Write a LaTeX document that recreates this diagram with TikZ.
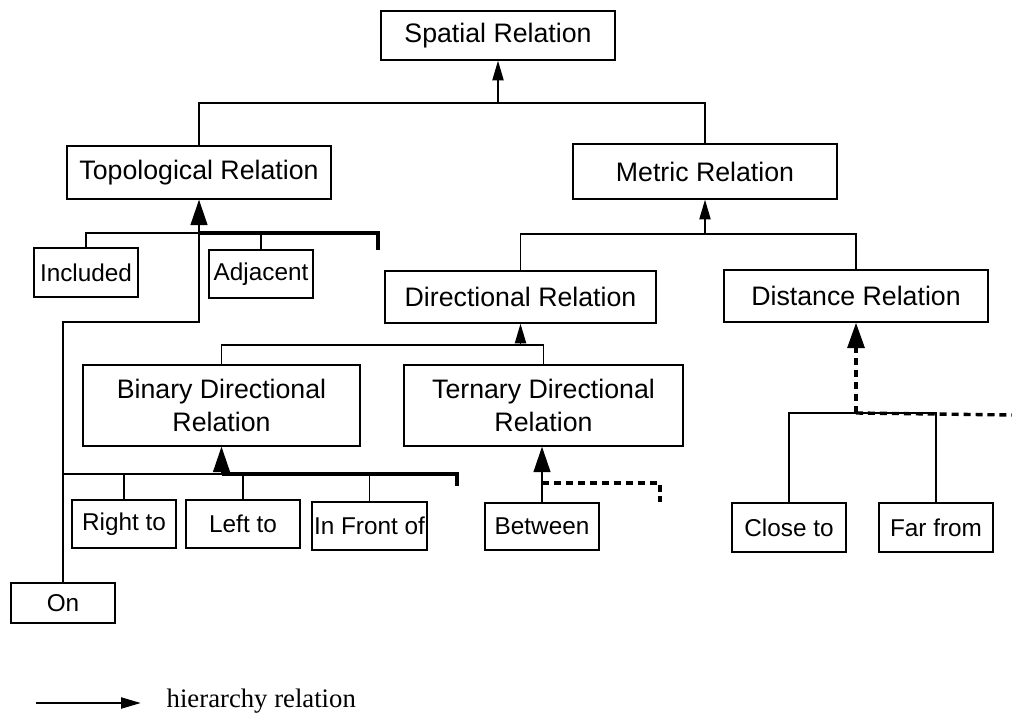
\documentclass[tikz,border=0pt]{standalone}
\usepackage{fontspec}
\setmainfont{Liberation Sans}
\newfontfamily\legendfont{Liberation Serif}
\usetikzlibrary{arrows.meta}

\begin{document}
\begin{tikzpicture}[x=0.025cm, y=-0.025cm, line width=1pt,
    box/.style={draw, line width=1pt, align=center, inner sep=0pt,
        font=\fontsize{19}{23.5}\selectfont},
    smallbox/.style={box, font=\fontsize{17.3}{21}\selectfont},
    smallarrow/.style={-{Triangle[length=14pt, width=8pt]}},
    bigarrow/.style={-{Triangle[length=18pt, width=12pt]}},
    boldline/.style={line width=2.8pt},
    dashline/.style={line width=2.4pt, dash pattern=on 5pt off 3.5pt}]
    \useasboundingbox (0,0) rectangle (1012,713);

    \node[box, minimum width=5.85cm, minimum height=1.225cm] (spatial) at (498,35.5) {Spatial Relation};
    \node[box, minimum width=6.6cm, minimum height=1.325cm] (topo) at (199,172.5) {Topological Relation};
    \node[box, minimum width=6.6cm, minimum height=1.375cm] (metric) at (705,171.5) {Metric Relation};
    \node[smallbox, minimum width=2.6cm, minimum height=1.225cm] (incl) at (86,272.5) {Included};
    \node[smallbox, minimum width=2.6cm, minimum height=1.2cm] (adj) at (261,274) {Adjacent};
    \node[box, minimum width=6.775cm, minimum height=1.3cm] (dir) at (520.5,297) {Directional Relation};
    \node[box, minimum width=6.6cm, minimum height=1.3cm] (dist) at (856,296) {Distance Relation};
    \node[box, minimum width=6.925cm, minimum height=2.025cm] (bin) at (221.5,405.5) {Binary Directional\\Relation};
    \node[box, minimum width=6.975cm, minimum height=2.025cm] (ter) at (543.5,405.5) {Ternary Directional\\Relation};
    \node[smallbox, minimum width=2.6cm, minimum height=1.2cm] (right) at (124,524) {Right to};
    \node[smallbox, minimum width=2.85cm, minimum height=1.2cm] (left) at (243,524) {Left to};
    \node[smallbox, minimum width=2.875cm, minimum height=1.2cm] (front) at (369.5,526) {In Front of};
    \node[smallbox, minimum width=2.85cm, minimum height=1.175cm] (betw) at (542,526.5) {Between};
    \node[smallbox, minimum width=2.85cm, minimum height=1.225cm] (close) at (789,527.5) {Close to};
    \node[smallbox, minimum width=2.85cm, minimum height=1.225cm] (far) at (936,527.5) {Far from};
    \node[smallbox, minimum width=2.6cm, minimum height=1cm] (on) at (63,603) {On};
    \node[anchor=base west, inner sep=0pt, font=\legendfont\fontsize{19}{22}\selectfont] (legend) at (166,707) {hierarchy relation};

    \coordinate (j1) at (498,103);
    \coordinate (j2) at (199,233);
    \coordinate (j3) at (705,234);
    \coordinate (j4) at (520.5,345);
    \coordinate (j5) at (221.5,474);
    \coordinate (j6) at (542,483);
    \coordinate (j7) at (856,413);
    \coordinate (b1) at (199,322);
    \coordinate (t2) at (378,250);
    \coordinate (t5) at (457,486);
    \coordinate (t6) at (660,502);
    \coordinate (t7) at (1012,415);
    \coordinate (l1) at (36,703);

    \draw (topo.north) |- (j1) -| (metric.north);
    \draw[smallarrow] (j1) -- (spatial.south);

    \draw (incl.north) |- (j2) -| (adj.north);
    \draw[boldline] (j2) -| (t2);
    \draw (on.north) |- (b1) -- (j2);
    \draw[bigarrow] (j2) -- (topo.south);

    \draw (dir.north) |- (j3) -| (dist.north);
    \draw[smallarrow] (j3) -- (metric.south);

    \draw (bin.north) |- (j4) -| (ter.north);
    \draw[smallarrow] (j4) -- (dir.south);

    \draw (on.north |- j5) -- (j5);
    \draw (right.north) |- (j5);
    \draw (left.north) -- (left.north |- j5);
    \draw (front.north) -- (front.north |- j5);
    \draw[boldline] (j5) -| (t5);
    \draw[bigarrow] (j5) -- (bin.south);

    \draw[bigarrow] (betw.north) -- (betw.north |- ter.south);
    \draw[dashline] (j6) -| (t6);

    \draw (close.north) |- (j7) -| (far.north);
    \draw[dashline] (j7) -- (t7);
    \draw[dashline, bigarrow] (j7) -- (dist.south);

    \draw[smallarrow] (l1) -- (l1 -| legend.west) [shorten >=18pt];
\end{tikzpicture}
\end{document}
